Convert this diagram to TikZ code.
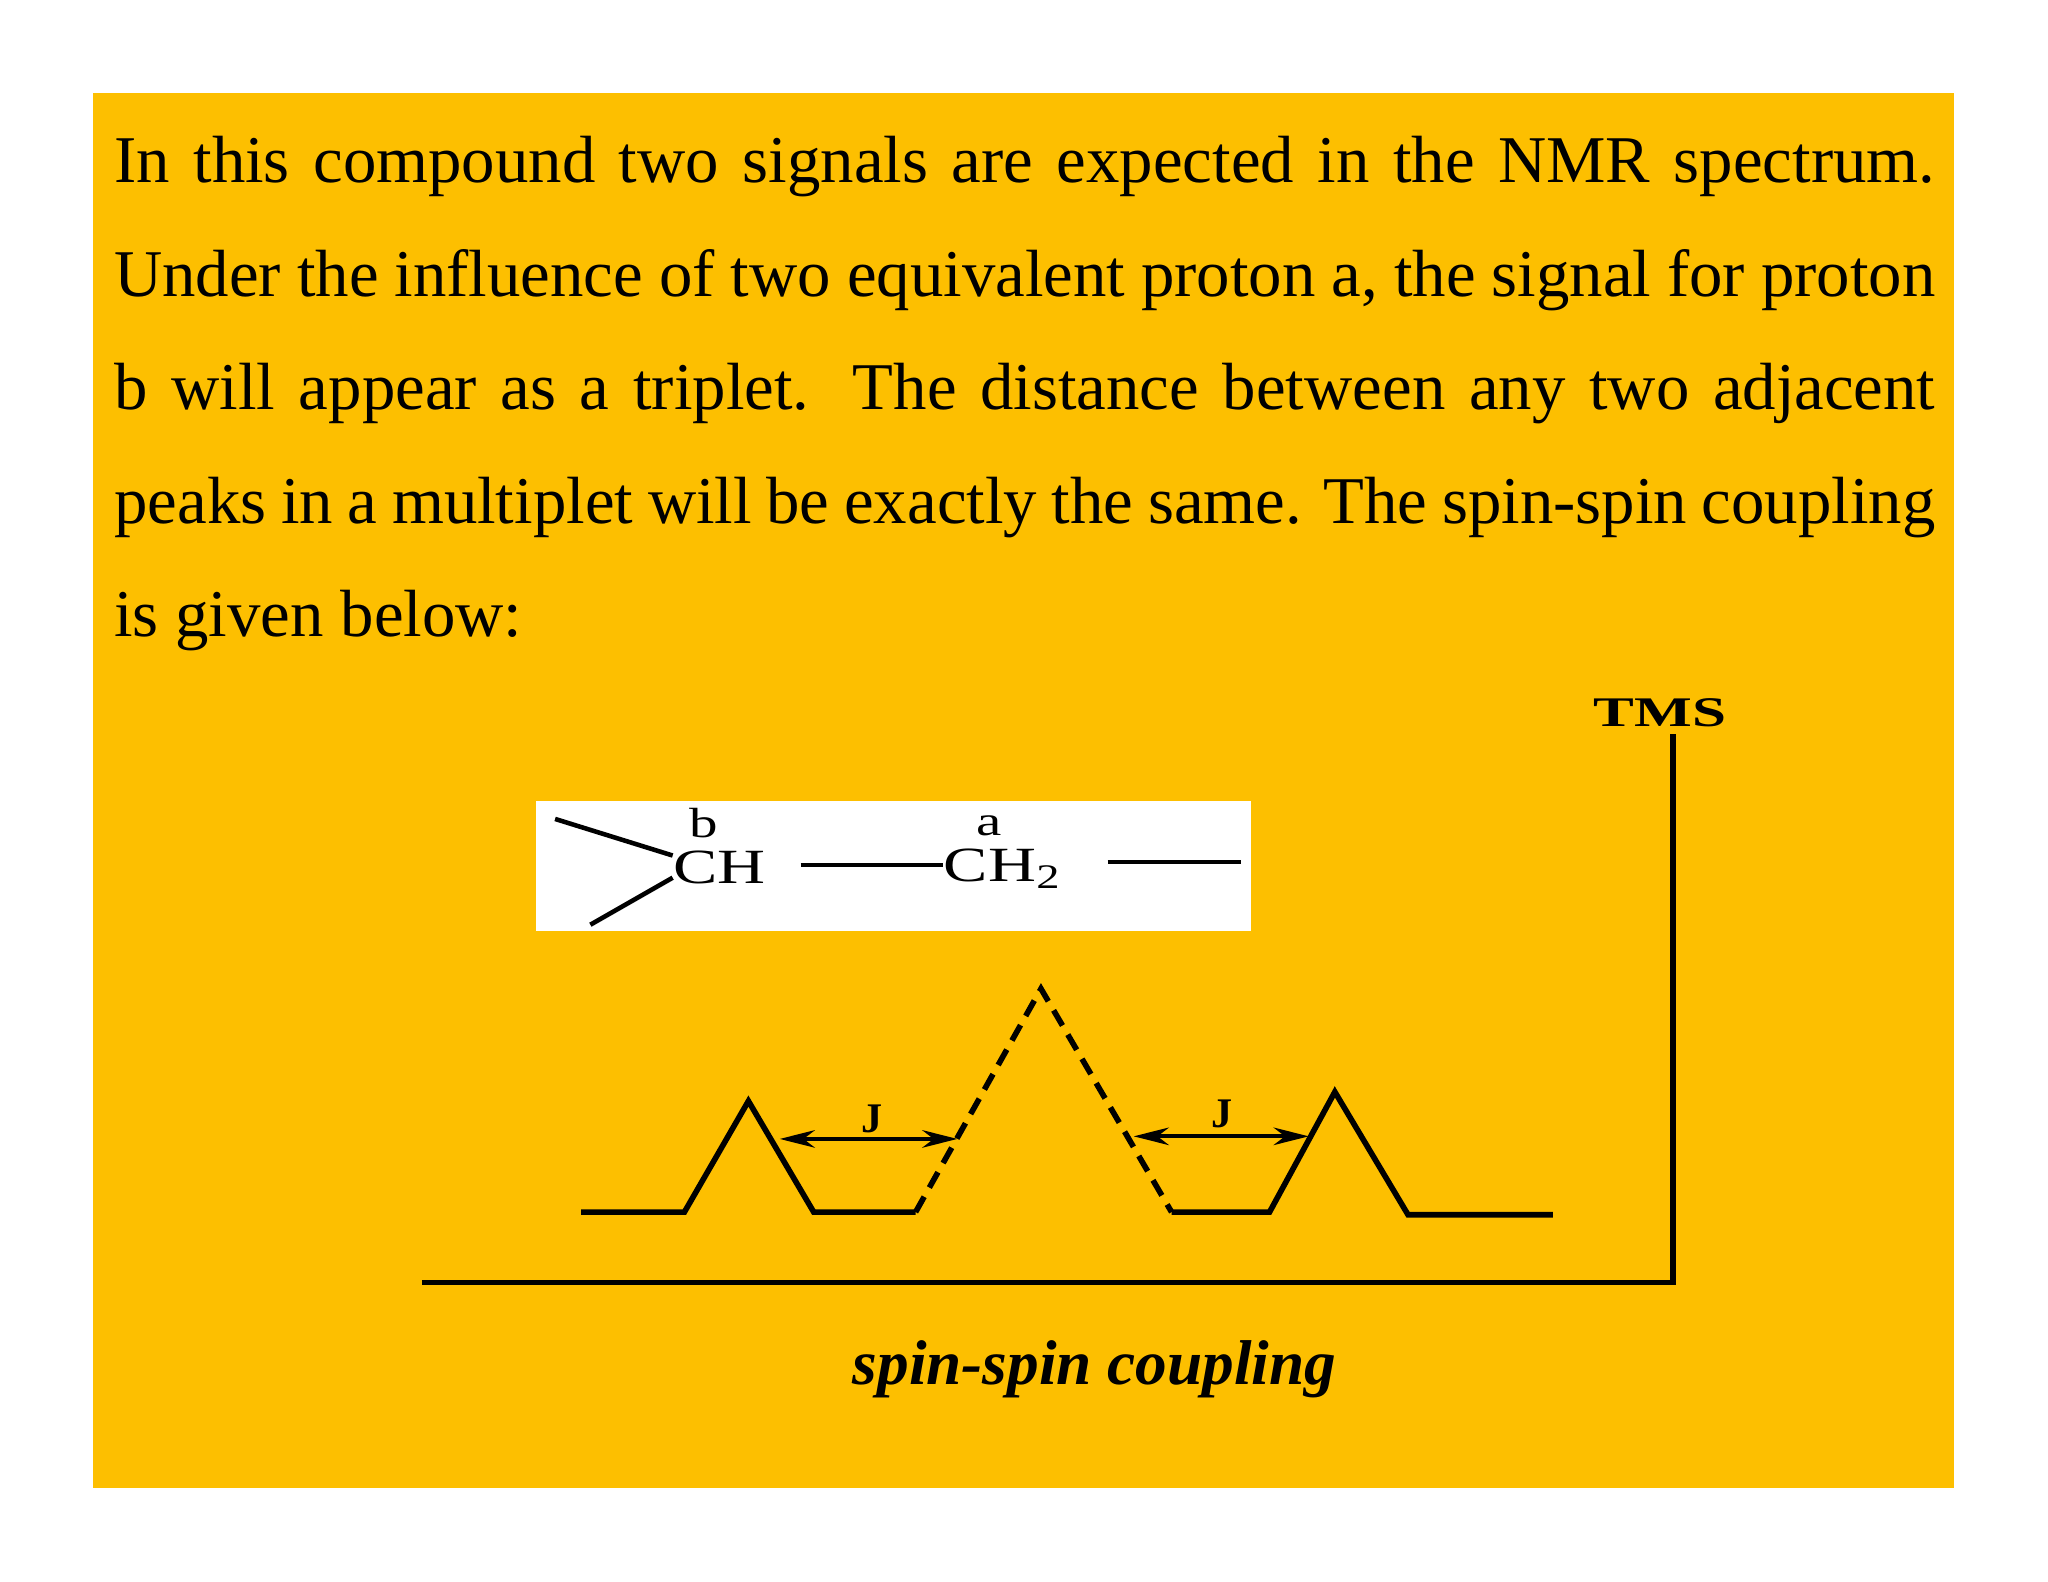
\documentclass[tikz,border=0pt]{standalone}
\usepackage{fontspec}
\setmainfont{Liberation Serif}
\usetikzlibrary{arrows.meta}
\definecolor{bg}{HTML}{FDBF00}
\begin{document}
\begin{tikzpicture}[x=0.01306cm,y=-0.01306cm,
  ln/.style={line width=1.6pt,black},
  dsh/.style={line width=1.6pt,dashed,dash pattern=on 5pt off 3pt},
  jarr/.style={line width=1.1pt,{Stealth[length=10pt,width=5pt]}-{Stealth[length=10pt,width=5pt]}},
  chem/.style={font=\fontsize{14}{14}\selectfont,inner sep=0pt,xscale=1.35},
  lab/.style={font=\fontsize{12}{12}\selectfont\bfseries,inner sep=0pt}]
\useasboundingbox (0,0) rectangle (1568,1211);
\fill[white] (0,0) rectangle (1568,1211);
\fill[bg] (71,71) rectangle (1496,1139);
\node[anchor=north west,inner sep=0pt,text width=18.21cm,align=justify,
  font=\fontsize{19}{32.3}\selectfont] (para) at (87,104)
  {In this compound two signals are expected in the NMR spectrum. Under the influence of two equivalent proton a, the signal for proton b will appear as a triplet. The distance between any two adjacent peaks in a multiplet will be exactly the same. The spin-spin coupling is given below:};
% chemical box
\fill[white] (410,613) rectangle (958,713);
\draw[line width=1.3pt] (425,627) -- (515,655);
\draw[line width=1.3pt] (452,708) -- (515,672);
\node[chem,anchor=west] (ch) at (515,664) {CH};
\node[chem,font=\fontsize{12}{12}\selectfont] (b) at (539,630) {b};
\draw[line width=1.1pt] (613,662) -- (722,662);
\node[chem,anchor=west] (ch2) at (722,665) {CH\textsubscript{2}};
\node[chem,font=\fontsize{12}{12}\selectfont] (a) at (757,632) {a};
\draw[line width=1.1pt] (848,660) -- (950,660);
% axis
\draw[ln] (323,982) -- (1281,982) -- (1281,562);
\node[font=\fontsize{12}{12}\selectfont\bfseries,inner sep=0pt,xscale=1.45] (tms) at (1271,546) {TMS};
% peaks
\draw[ln] (445,928) -- (524,928) -- (573,843) -- (623,928) -- (701,928);
\draw[dsh] (701,928) -- (797,757) -- (897,928);
\draw[ln] (897,928) -- (972,928) -- (1022,836) -- (1078,930) -- (1189,930);
\coordinate (j1a) at (597,872); \coordinate (j1b) at (733,872);
\coordinate (j2a) at (868,870); \coordinate (j2b) at (1002,870);
\draw[jarr] (j1a) -- (j1b);
\draw[jarr] (j2a) -- (j2b);
\node[lab] (J1) at (668,857) {J};
\node[lab] (J2) at (936,853) {J};
\node[font=\fontsize{18}{18}\selectfont\bfseries\itshape] (cap) at (838,1048) {spin-spin coupling};
\end{tikzpicture}
\end{document}
